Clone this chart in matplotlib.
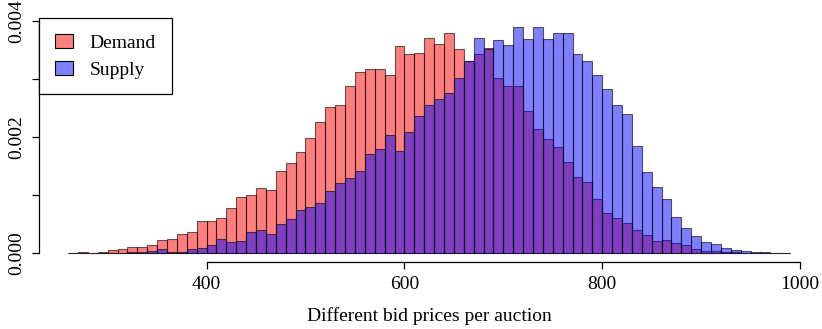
import numpy as np
import matplotlib
matplotlib.use("Agg")
import matplotlib.pyplot as plt
from matplotlib.patches import Patch

plt.rcParams['font.family'] = ['Liberation Serif', 'DejaVu Serif']

# bin left edges, width 10
bin_left = list(range(260, 990, 10))

demand = [
    0.00001, 0.00002, 0.00001, 0.00002, 0.00005, 0.000075, 0.0001, 0.0001,
    0.00015, 0.00023, 0.00025, 0.00033, 0.00037, 0.00055, 0.00055, 0.00061,
    0.00078, 0.00097, 0.00101, 0.00113, 0.0011, 0.00142, 0.00155, 0.00174,
    0.00199, 0.00226, 0.00252, 0.00255, 0.00288, 0.00312, 0.00318, 0.00318,
    0.00308, 0.00358, 0.00344, 0.00345, 0.00372, 0.00361, 0.00379, 0.00353,
    0.00332, 0.00344, 0.00354, 0.00303, 0.00288, 0.00289, 0.00245, 0.00214,
    0.00197, 0.00183, 0.00157, 0.00131, 0.00123, 0.00094, 0.00070, 0.00061,
    0.00052, 0.00040, 0.00031, 0.00021, 0.00023, 0.00017, 0.00014, 0.00007,
    0.000046, 0.000046, 0.00003, 0.00002, 0.00001, 0.000005, 0.000003,
    0.000002, 0.000002,
]

supply = [
    0.0, 0.0, 0.0, 0.000003, 0.000005, 0.00001, 0.00002, 0.00002,
    0.00004, 0.00007, 0.00003, 0.00003, 0.00008, 0.00009, 0.00014, 0.00024,
    0.0002, 0.00022, 0.00036, 0.0004, 0.00034, 0.0005, 0.00059, 0.00074,
    0.0008, 0.00086, 0.00107, 0.00121, 0.00129, 0.00142, 0.00171, 0.00179,
    0.00204, 0.00176, 0.00209, 0.00237, 0.00255, 0.00266, 0.00276, 0.00302,
    0.00331, 0.00372, 0.00353, 0.00367, 0.0036, 0.0039, 0.0037, 0.0039,
    0.00369, 0.00379, 0.00379, 0.00344, 0.00332, 0.00307, 0.00284, 0.00255,
    0.00241, 0.00185, 0.0014, 0.00114, 0.00093, 0.00062, 0.00043, 0.00029,
    0.0002, 0.000155, 0.000086, 0.000063, 0.000046, 0.000025, 0.000017,
    0.00001, 0.00001,
]

labels = ["Demand", "Supply"]
x_ticks = [400, 600, 800, 1000]
y_ticks = [0.0, 0.001, 0.002, 0.003, 0.004]
y_ticklabels = ["0.000", "", "0.002", "", "0.004"]

red = (1, 0, 0, 0.5)
blue = (0, 0, 1, 0.5)
edge = (0, 0, 0, 0.6)
fs = 14

fig = plt.figure(figsize=(8.22, 3.29), dpi=100)
ax = fig.add_axes([0.0477, 0.2026, 0.9487, 0.7425])

ax.bar(bin_left, demand, width=10, align='edge', color=red,
       edgecolor=edge, linewidth=0.8)
ax.bar(bin_left, supply, width=10, align='edge', color=blue,
       edgecolor=edge, linewidth=0.8)

ax.set_xlim(230.8, 1019.2)
ax.set_ylim(-0.000156, 0.004056)

# R-style detached axes
for s in ['top', 'right']:
    ax.spines[s].set_visible(False)
ax.spines['bottom'].set_bounds(400, 1000)
ax.spines['left'].set_bounds(0, 0.004)
ax.spines['bottom'].set_linewidth(0.9)
ax.spines['left'].set_linewidth(0.9)

ax.set_xticks(x_ticks)
ax.set_xticklabels([str(v) for v in x_ticks], fontsize=fs)
ax.set_yticks(y_ticks)
ax.set_yticklabels(y_ticklabels, fontsize=fs, rotation=90, va='center')
ax.tick_params(axis='both', length=5, width=0.9, pad=5)

ax.set_xlabel("Different bid prices per auction", fontsize=fs, labelpad=10)

handles = [Patch(facecolor=red, edgecolor='black', linewidth=0.8),
           Patch(facecolor=blue, edgecolor='black', linewidth=0.8)]
leg = ax.legend(handles, labels, loc='upper left', bbox_to_anchor=(0.0, 1.0),
                borderaxespad=0, fontsize=fs, frameon=True, fancybox=False,
                handlelength=0.95, handleheight=0.8, handletextpad=0.85,
                labelspacing=0.45, borderpad=0.8)
leg.get_frame().set_edgecolor('black')
leg.get_frame().set_linewidth(0.9)
leg.get_frame().set_alpha(1)

fig.savefig("out.png", dpi=100)
